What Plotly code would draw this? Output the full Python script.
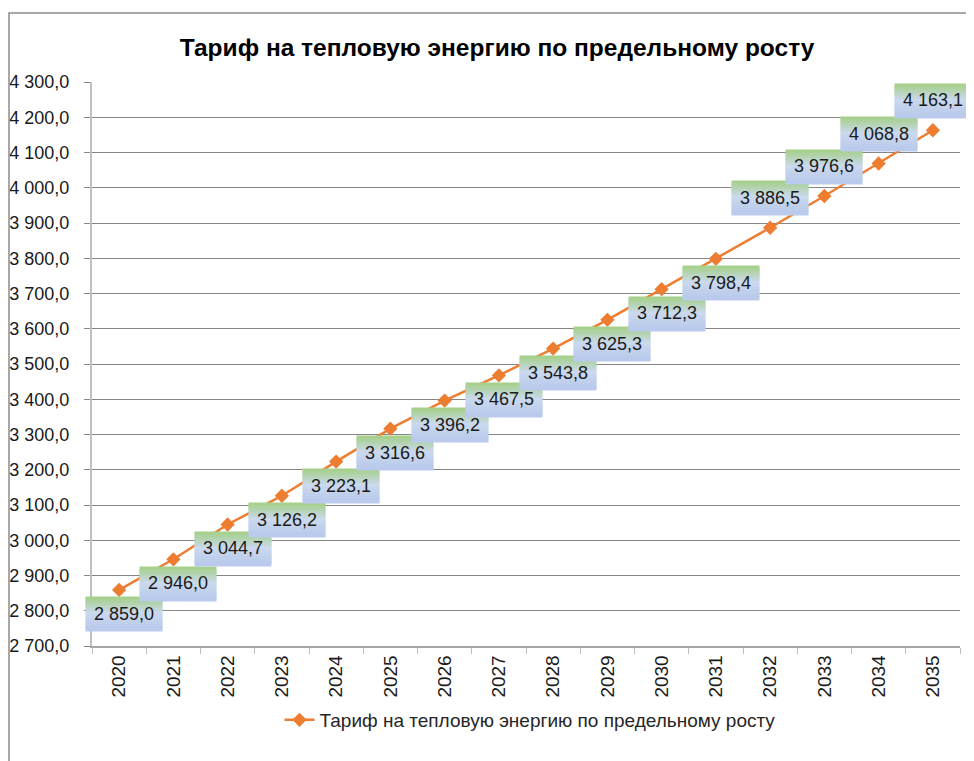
import plotly.graph_objects as go

years = [str(y) for y in range(2020, 2036)]
values = [2859.0, 2946.0, 3044.7, 3126.2, 3223.1, 3316.6, 3396.2, 3467.5,
          3543.8, 3625.3, 3712.3, 3798.4, 3886.5, 3976.6, 4068.8, 4163.1]
# label placed below (True) or above (False) the point
label_below = [True] * 12 + [False] * 4
y_ticks = list(range(2700, 4301, 100))
series_name = "Тариф на тепловую энергию по предельному росту"
title = "Тариф на тепловую энергию по предельному росту"


def fmt(v):
    return f"{v:,.1f}".replace(",", " ").replace(".", ",")


y_ticktext = [fmt(v) for v in y_ticks]
xpos = list(range(len(years)))
bounds = [i - 0.5 for i in range(len(years) + 1)]

fig = go.Figure()
fig.add_trace(go.Scatter(
    x=xpos, y=values, mode="lines+markers", name=series_name,
    line=dict(color="#ED7D31", width=2.5),
    marker=dict(symbol="diamond", size=11, color="#ED7D31"),
))

# gradient label boxes built from thin bands
top = (166, 208, 140)
mid = (203, 217, 238)
bot = (186, 202, 236)
nb = 11
bh = 3
shapes = []
annotations = []
for xi, v, below in zip(xpos, values, label_below):
    cy = -24 if below else 30
    xs = 5 if below else 0
    ytop = cy + 16
    for k in range(nb):
        t = k / (nb - 1)
        if t < 0.5:
            u = t / 0.5
            c = tuple(int(top[j] + (mid[j] - top[j]) * u) for j in range(3))
        else:
            u = (t - 0.5) / 0.5
            c = tuple(int(mid[j] + (bot[j] - mid[j]) * u) for j in range(3))
        bc = ytop - k * bh - bh / 2
        annotations.append(dict(
            x=xi, y=v, xref="x", yref="y", text=" ", showarrow=False,
            width=76, height=bh + 0.6, borderpad=0, bgcolor=f"rgb{c}",
            xshift=xs, yshift=bc, font=dict(size=1)))
for xi, v, below in zip(xpos, values, label_below):
    cy = -24 if below else 30
    xs = 5 if below else 0
    annotations.append(dict(
        x=xi, y=v, xref="x", yref="y", text=fmt(v), showarrow=False,
        xshift=xs, yshift=cy, font=dict(family="Liberation Sans, Arial", size=18, color="#1a1a1a")))

# outer chart border
shapes.append(dict(type="rect", xref="paper", yref="paper",
                   x0=(9 - 92) / 868, x1=(990 - 92) / 868,
                   y0=(646 - 790) / 564, y1=(646 - 13) / 564,
                   line=dict(color="#8c8c8c", width=1.5), fillcolor="rgba(0,0,0,0)", layer="above"))

fig.update_layout(
    width=974, height=761,
    margin=dict(l=84, r=22, t=74, b=123, autoexpand=False),
    paper_bgcolor="white", plot_bgcolor="white",
    title=dict(text=f"<b>{title}</b>", x=489 / 974, xanchor="center",
               y=1 - 39 / 761, yanchor="middle", automargin=False,
               font=dict(family="Liberation Sans Narrow, Arial Narrow, Liberation Sans", size=24.5, color="#000000")),
    showlegend=True,
    legend=dict(orientation="h", x=(530 - 92) / 868, xanchor="center",
                y=(646 - 720) / 564, yanchor="middle",
                font=dict(family="Liberation Sans, Arial", size=19, color="#262626")),
    shapes=shapes, annotations=annotations,
    xaxis=dict(tickvals=xpos, ticktext=years, ticks="", showgrid=False, zeroline=False,
               showline=True, linecolor="#a6a6a6", linewidth=1.5, tickangle=-90, automargin=False,
               minor=dict(tickvals=bounds, ticks="outside", ticklen=6, tickcolor="#bfbfbf", showgrid=False),
               tickfont=dict(family="Liberation Sans, Arial", size=19, color="#1a1a1a"),
               range=[-0.5, 15.5]),
    yaxis=dict(range=[2700, 4300], tickvals=y_ticks, ticktext=y_ticktext, automargin=False,
               ticks="outside", ticklen=6, tickcolor="#868686", ticklabelstandoff=11,
               showgrid=True, gridcolor="#868686", gridwidth=1,
               showline=True, linecolor="#c0c0c0", linewidth=2, zeroline=False,
               tickfont=dict(family="Liberation Sans, Arial", size=18, color="#1a1a1a")),
)

fig.write_html("out.html")
